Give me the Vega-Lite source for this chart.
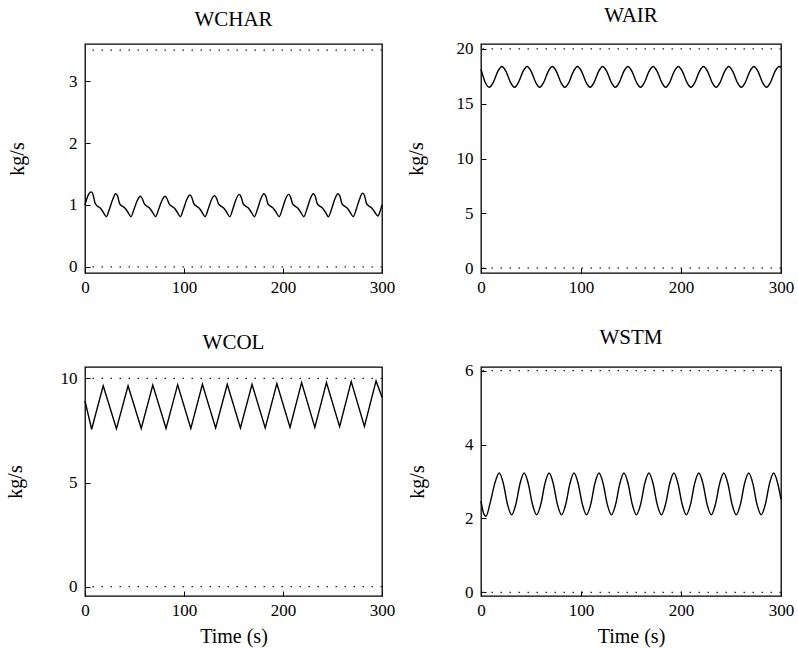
{
 "$schema": "https://vega.github.io/schema/vega-lite/v6.json",
 "background": "white",
 "padding": {"left": 4, "top": 4, "right": 5, "bottom": 2},
 "bounds": "flush",
 "columns": 2,
 "spacing": {"row": 94, "column": 99},
 "config": {
   "font": "Liberation Serif",
   "view": {"stroke": "black", "strokeWidth": 1.3},
   "style": {"guide-label": {"font": "Liberation Serif"}, "guide-title": {"font": "Liberation Serif", "fontWeight": "normal"}},
   "axis": {"domain": false, "grid": false, "tickSize": -5, "tickColor": "black", "tickWidth": 1, "labelFont": "Liberation Serif", "labelFontSize": 17, "labelColor": "black", "labelOverlap": false, "titleFont": "Liberation Serif", "titleFontSize": 20, "titleFontWeight": "normal", "titleColor": "black"},
   "axisX": {"labelPadding": 11, "labelAngle": 0, "labelFlush": false},
   "axisY": {"labelPadding": 13},
   "title": {"font": "Liberation Serif", "fontSize": 21, "fontWeight": "normal", "color": "black", "offset": 14, "baseline": "bottom", "anchor": "middle"}
 },
 "datasets": {
  "lim": [
   {"p": "WCHAR", "v": 0}, {"p": "WCHAR", "v": 3.5},
   {"p": "WAIR", "v": 0}, {"p": "WAIR", "v": 20},
   {"p": "WCOL", "v": 0}, {"p": "WCOL", "v": 10},
   {"p": "WSTM", "v": 0}, {"p": "WSTM", "v": 6}
  ],
  "wchar": [
   {"t":0,"v":1.0},{"t":3,"v":1.15},{"t":6.1,"v":1.21},{"t":8.1,"v":1.17},{"t":10.1,"v":1.03},{"t":12.6,"v":0.98},{"t":15.1,"v":0.955},{"t":18.1,"v":0.89},{"t":21.5,"v":0.81},{"t":24.6,"v":0.93},{"t":27.6,"v":1.07},{"t":31.0,"v":1.18},
   {"t":33.0,"v":1.14},{"t":35.0,"v":1.02},{"t":37.5,"v":0.98},{"t":40.0,"v":0.955},{"t":43.0,"v":0.89},{"t":46.4,"v":0.81},{"t":49.5,"v":0.93},{"t":52.5,"v":1.06},{"t":55.9,"v":1.14},
   {"t":57.9,"v":1.1},{"t":59.9,"v":1.02},{"t":62.4,"v":0.98},{"t":64.9,"v":0.955},{"t":67.9,"v":0.89},{"t":71.3,"v":0.81},{"t":74.4,"v":0.93},{"t":77.4,"v":1.06},{"t":80.9,"v":1.14},
   {"t":82.9,"v":1.1},{"t":84.9,"v":1.02},{"t":87.4,"v":0.98},{"t":89.9,"v":0.955},{"t":92.9,"v":0.89},{"t":96.3,"v":0.81},{"t":99.4,"v":0.93},{"t":102.4,"v":1.07},{"t":105.9,"v":1.16},
   {"t":107.9,"v":1.12},{"t":109.9,"v":1.02},{"t":112.4,"v":0.98},{"t":114.9,"v":0.955},{"t":117.9,"v":0.89},{"t":121.3,"v":0.81},{"t":124.4,"v":0.93},{"t":127.4,"v":1.07},{"t":130.8,"v":1.15},
   {"t":132.8,"v":1.11},{"t":134.8,"v":1.02},{"t":137.3,"v":0.98},{"t":139.8,"v":0.955},{"t":142.8,"v":0.89},{"t":146.2,"v":0.81},{"t":149.3,"v":0.93},{"t":152.3,"v":1.08},{"t":155.7,"v":1.17},
   {"t":157.7,"v":1.13},{"t":159.7,"v":1.02},{"t":162.2,"v":0.98},{"t":164.7,"v":0.955},{"t":167.7,"v":0.89},{"t":171.1,"v":0.81},{"t":174.2,"v":0.93},{"t":177.2,"v":1.08},{"t":180.7,"v":1.18},
   {"t":182.7,"v":1.14},{"t":184.7,"v":1.02},{"t":187.2,"v":0.98},{"t":189.7,"v":0.955},{"t":192.7,"v":0.89},{"t":196.1,"v":0.81},{"t":199.2,"v":0.93},{"t":202.2,"v":1.08},{"t":205.6,"v":1.17},
   {"t":207.6,"v":1.13},{"t":209.6,"v":1.02},{"t":212.1,"v":0.98},{"t":214.6,"v":0.955},{"t":217.6,"v":0.89},{"t":221.0,"v":0.81},{"t":224.1,"v":0.93},{"t":227.1,"v":1.08},{"t":230.6,"v":1.18},
   {"t":232.6,"v":1.14},{"t":234.6,"v":1.02},{"t":237.1,"v":0.98},{"t":239.6,"v":0.955},{"t":242.6,"v":0.89},{"t":245.9,"v":0.81},{"t":249.0,"v":0.93},{"t":252.0,"v":1.08},{"t":255.5,"v":1.18},
   {"t":257.5,"v":1.14},{"t":259.5,"v":1.02},{"t":262.0,"v":0.98},{"t":264.5,"v":0.955},{"t":267.5,"v":0.89},{"t":270.9,"v":0.81},{"t":274.0,"v":0.93},{"t":277.0,"v":1.08},{"t":280.4,"v":1.19},
   {"t":282.4,"v":1.15},{"t":284.4,"v":1.02},{"t":286.9,"v":0.98},{"t":289.4,"v":0.955},{"t":292.4,"v":0.89},{"t":295.8,"v":0.82},{"t":298.5,"v":0.92},{"t":300,"v":1.0}
  ],
  "wair": [
   {"t":0,"v":18.15},{"t":4.1,"v":16.98},{"t":8.3,"v":16.5},{"t":12.5,"v":16.98},{"t":16.7,"v":17.93},{"t":20.9,"v":18.4},
   {"t":25.1,"v":17.93},{"t":29.3,"v":16.98},{"t":33.5,"v":16.5},{"t":37.7,"v":16.98},{"t":41.9,"v":17.93},{"t":46.1,"v":18.4},
   {"t":50.3,"v":17.93},{"t":54.5,"v":16.98},{"t":58.7,"v":16.5},{"t":62.9,"v":16.98},{"t":67.1,"v":17.93},{"t":71.3,"v":18.4},
   {"t":75.5,"v":17.93},{"t":79.7,"v":16.98},{"t":83.9,"v":16.5},{"t":88.1,"v":16.98},{"t":92.3,"v":17.93},{"t":96.5,"v":18.4},
   {"t":100.7,"v":17.93},{"t":104.9,"v":16.98},{"t":109.1,"v":16.5},{"t":113.3,"v":16.98},{"t":117.5,"v":17.93},{"t":121.7,"v":18.4},
   {"t":125.9,"v":17.93},{"t":130.1,"v":16.98},{"t":134.3,"v":16.5},{"t":138.5,"v":16.98},{"t":142.7,"v":17.93},{"t":146.9,"v":18.4},
   {"t":151.1,"v":17.93},{"t":155.3,"v":16.98},{"t":159.5,"v":16.5},{"t":163.7,"v":16.98},{"t":167.9,"v":17.93},{"t":172.1,"v":18.4},
   {"t":176.3,"v":17.93},{"t":180.5,"v":16.98},{"t":184.7,"v":16.5},{"t":188.9,"v":16.98},{"t":193.1,"v":17.93},{"t":197.3,"v":18.4},
   {"t":201.5,"v":17.93},{"t":205.7,"v":16.98},{"t":209.9,"v":16.5},{"t":214.1,"v":16.98},{"t":218.3,"v":17.93},{"t":222.5,"v":18.4},
   {"t":226.7,"v":17.93},{"t":230.9,"v":16.98},{"t":235.1,"v":16.5},{"t":239.3,"v":16.98},{"t":243.5,"v":17.93},{"t":247.7,"v":18.4},
   {"t":251.9,"v":17.93},{"t":256.1,"v":16.98},{"t":260.3,"v":16.5},{"t":264.5,"v":16.98},{"t":268.7,"v":17.93},{"t":272.9,"v":18.4},
   {"t":277.1,"v":17.93},{"t":281.3,"v":16.98},{"t":285.5,"v":16.5},{"t":289.7,"v":16.98},{"t":293.9,"v":17.93},{"t":298.1,"v":18.4},
   {"t":300,"v":18.3}
  ],
  "wcol": [
   {"t":0,"v":8.92},{"t":6.7,"v":7.56},{"t":18.4,"v":9.65},{"t":31.75,"v":7.58},{"t":43.5,"v":9.65},{"t":56.8,"v":7.6},{"t":68.5,"v":9.68},{"t":81.85,"v":7.6},{"t":93.6,"v":9.7},{"t":106.9,"v":7.6},{"t":118.6,"v":9.72},{"t":131.95,"v":7.62},{"t":143.7,"v":9.72},{"t":157.0,"v":7.62},{"t":168.7,"v":9.72},{"t":182.05,"v":7.62},{"t":193.8,"v":9.75},{"t":207.1,"v":7.65},{"t":218.8,"v":9.8},{"t":232.15,"v":7.65},{"t":243.9,"v":9.8},{"t":257.2,"v":7.68},{"t":268.9,"v":9.85},{"t":282.25,"v":7.7},{"t":294.0,"v":9.88},{"t":300,"v":9.1}
  ],
  "wstm": [
   {"t":0,"v":2.47},{"t":2.5,"v":2.15},{"t":5.0,"v":2.06},{"t":9.4,"v":2.45},{"t":13.8,"v":2.95},{"t":18.2,"v":3.23},
   {"t":22.4,"v":2.94},{"t":26.5,"v":2.38},{"t":30.7,"v":2.1},{"t":34.8,"v":2.38},{"t":39.0,"v":2.94},{"t":43.15,"v":3.23},
   {"t":47.3,"v":2.94},{"t":51.5,"v":2.38},{"t":55.6,"v":2.1},{"t":59.8,"v":2.38},{"t":63.9,"v":2.94},{"t":68.1,"v":3.23},
   {"t":72.3,"v":2.94},{"t":76.4,"v":2.38},{"t":80.6,"v":2.1},{"t":84.7,"v":2.38},{"t":88.9,"v":2.94},{"t":93.05,"v":3.23},
   {"t":97.2,"v":2.94},{"t":101.4,"v":2.38},{"t":105.5,"v":2.1},{"t":109.7,"v":2.38},{"t":113.8,"v":2.94},{"t":118.0,"v":3.23},
   {"t":122.2,"v":2.94},{"t":126.3,"v":2.38},{"t":130.5,"v":2.1},{"t":134.6,"v":2.38},{"t":138.8,"v":2.94},{"t":142.95,"v":3.23},
   {"t":147.1,"v":2.94},{"t":151.3,"v":2.38},{"t":155.4,"v":2.1},{"t":159.6,"v":2.38},{"t":163.7,"v":2.94},{"t":167.9,"v":3.23},
   {"t":172.1,"v":2.94},{"t":176.2,"v":2.38},{"t":180.4,"v":2.1},{"t":184.5,"v":2.38},{"t":188.7,"v":2.94},{"t":192.85,"v":3.23},
   {"t":197.0,"v":2.94},{"t":201.2,"v":2.38},{"t":205.3,"v":2.1},{"t":209.5,"v":2.38},{"t":213.6,"v":2.94},{"t":217.8,"v":3.23},
   {"t":222.0,"v":2.94},{"t":226.1,"v":2.38},{"t":230.3,"v":2.1},{"t":234.4,"v":2.38},{"t":238.6,"v":2.94},{"t":242.75,"v":3.23},
   {"t":246.9,"v":2.94},{"t":251.1,"v":2.38},{"t":255.2,"v":2.1},{"t":259.4,"v":2.38},{"t":263.5,"v":2.94},{"t":267.7,"v":3.23},
   {"t":271.9,"v":2.94},{"t":276.0,"v":2.38},{"t":280.2,"v":2.1},{"t":284.3,"v":2.38},{"t":288.5,"v":2.94},{"t":292.65,"v":3.23},
   {"t":296.8,"v":2.94},{"t":300,"v":2.52}
  ]
 },
 "concat": [
  {
   "title": "WCHAR",
   "width": 297, "height": 229,
   "encoding": {"y": {"field": "v", "type": "quantitative", "scale": {"domain": [-0.1, 3.6], "nice": false, "zero": false}, "axis": {"values": [0, 1, 2, 3], "title": "kg/s", "titlePadding": 41}}},
   "layer": [
    {"data": {"name": "lim"}, "transform": [{"filter": "datum.p === 'WCHAR'"}], "mark": {"type": "rule", "strokeDash": [1.5, 7.5], "strokeWidth": 1.2, "color": "#222"}, "encoding": {}},
    {"data": {"name": "wchar"}, "mark": {"type": "line", "interpolate": "monotone", "color": "black", "strokeWidth": 1.4}, "encoding": {"x": {"field": "t", "type": "quantitative", "scale": {"domain": [0, 300], "nice": false}, "axis": {"values": [0, 100, 200, 300], "title": null}}}}
   ]
  },
  {
   "title": "WAIR",
   "width": 300, "height": 229,
   "encoding": {"y": {"field": "v", "type": "quantitative", "scale": {"domain": [-0.45, 20.45], "nice": false, "zero": false}, "axis": {"values": [0, 5, 10, 15, 20], "title": "kg/s", "titlePadding": 30}}},
   "layer": [
    {"data": {"name": "lim"}, "transform": [{"filter": "datum.p === 'WAIR'"}], "mark": {"type": "rule", "strokeDash": [1.5, 7.5], "strokeWidth": 1.2, "color": "#222"}, "encoding": {}},
    {"data": {"name": "wair"}, "mark": {"type": "line", "interpolate": "monotone", "color": "black", "strokeWidth": 1.4}, "encoding": {"x": {"field": "t", "type": "quantitative", "scale": {"domain": [0, 300], "nice": false}, "axis": {"values": [0, 100, 200, 300], "title": null}}}}
   ]
  },
  {
   "title": "WCOL",
   "width": 297, "height": 229,
   "encoding": {"y": {"field": "v", "type": "quantitative", "scale": {"domain": [-0.45, 10.55], "nice": false, "zero": false}, "axis": {"values": [0, 5, 10], "title": "kg/s", "titlePadding": 35}}},
   "layer": [
    {"data": {"name": "lim"}, "transform": [{"filter": "datum.p === 'WCOL'"}], "mark": {"type": "rule", "strokeDash": [1.5, 7.5], "strokeWidth": 1.2, "color": "#222"}, "encoding": {}},
    {"data": {"name": "wcol"}, "mark": {"type": "line", "interpolate": "linear", "color": "black", "strokeWidth": 1.4}, "encoding": {"x": {"field": "t", "type": "quantitative", "scale": {"domain": [0, 300], "nice": false}, "axis": {"values": [0, 100, 200, 300], "title": "Time (s)", "titlePadding": 8}}}}
   ]
  },
  {
   "title": "WSTM",
   "width": 300, "height": 229,
   "encoding": {"y": {"field": "v", "type": "quantitative", "scale": {"domain": [-0.1, 6.1], "nice": false, "zero": false}, "axis": {"values": [0, 2, 4, 6], "title": "kg/s", "titlePadding": 37}}},
   "layer": [
    {"data": {"name": "lim"}, "transform": [{"filter": "datum.p === 'WSTM'"}], "mark": {"type": "rule", "strokeDash": [1.5, 7.5], "strokeWidth": 1.2, "color": "#222"}, "encoding": {}},
    {"data": {"name": "wstm"}, "mark": {"type": "line", "interpolate": "monotone", "color": "black", "strokeWidth": 1.4}, "encoding": {"x": {"field": "t", "type": "quantitative", "scale": {"domain": [0, 300], "nice": false}, "axis": {"values": [0, 100, 200, 300], "title": "Time (s)", "titlePadding": 8}}}}
   ]
  }
 ]
}
